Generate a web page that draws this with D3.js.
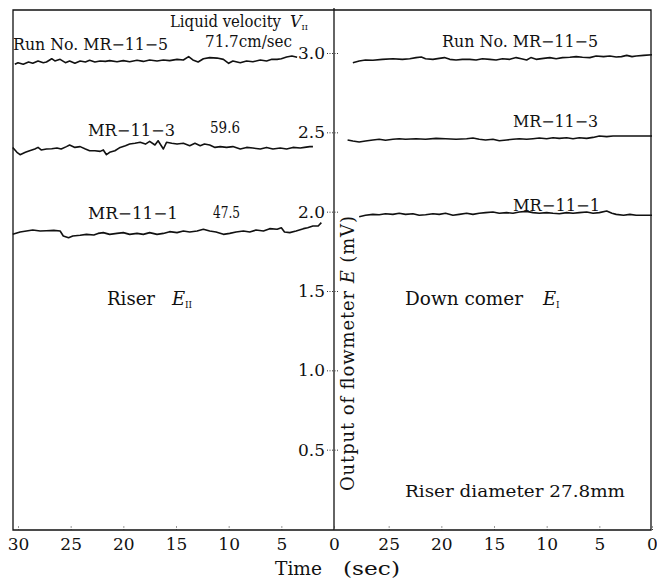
<!DOCTYPE html>
<html lang="en">
<head>
<meta charset="utf-8">
<title>Flowmeter output: riser and down comer</title>
<script src="https://cdn.jsdelivr.net/npm/d3@7"></script>
<style>
  body { margin: 0; background: #fff; }
  svg text { font-family: "DejaVu Serif", "Liberation Serif", serif; fill: #111; }
</style>
</head>
<body>
<script>

// Traces: [time (sec), output E (mV)]
// Riser E_II (left panel)
var riser5 = [[30.3,2.929],[30.0,2.939],[29.5,2.929],[29.0,2.943],[28.6,2.935],[28.1,2.950],[27.6,2.939],[27.3,2.943],[26.8,2.964],[26.5,2.950],[26.0,2.960],[25.5,2.939],[25.1,2.950],[24.6,2.935],[24.1,2.950],[23.6,2.943],[23.2,2.954],[22.7,2.943],[22.2,2.950],[21.7,2.947],[21.3,2.952],[20.6,2.945],[20.0,2.952],[19.4,2.945],[18.7,2.954],[18.1,2.947],[17.5,2.956],[16.8,2.950],[16.2,2.956],[15.6,2.952],[14.9,2.960],[14.3,2.956],[13.8,2.977],[13.4,2.956],[12.9,2.943],[12.4,2.964],[11.8,2.971],[11.1,2.968],[10.5,2.960],[10.0,2.935],[9.6,2.950],[8.9,2.939],[8.3,2.950],[7.7,2.945],[7.0,2.956],[6.4,2.950],[5.9,2.960],[5.4,2.960],[5.0,2.964],[4.5,2.975],[4.0,2.981],[3.5,2.973]];
var riser3 = [[30.5,2.405],[30.1,2.374],[29.8,2.359],[29.3,2.374],[28.9,2.384],[28.4,2.395],[28.1,2.405],[27.8,2.389],[27.3,2.395],[26.8,2.397],[26.3,2.401],[25.9,2.395],[25.4,2.410],[25.1,2.420],[24.6,2.405],[24.1,2.410],[23.6,2.395],[23.2,2.384],[22.7,2.384],[22.2,2.380],[21.9,2.389],[21.6,2.359],[21.3,2.374],[20.8,2.384],[20.3,2.405],[19.8,2.416],[19.4,2.426],[18.9,2.431],[18.4,2.437],[17.9,2.426],[17.5,2.443],[17.0,2.420],[16.7,2.447],[16.2,2.395],[15.9,2.437],[15.4,2.431],[14.9,2.426],[14.3,2.431],[13.7,2.416],[13.2,2.431],[12.7,2.416],[12.3,2.426],[11.8,2.420],[11.3,2.405],[10.8,2.410],[10.2,2.405],[9.6,2.410],[8.9,2.395],[8.3,2.405],[7.7,2.401],[7.0,2.395],[6.4,2.405],[5.8,2.395],[5.1,2.401],[4.5,2.395],[3.9,2.405],[3.2,2.401],[2.8,2.405],[2.3,2.410],[2.0,2.410]];
var riser1 = [[30.5,1.857],[29.8,1.872],[29.2,1.878],[28.6,1.884],[27.9,1.878],[27.3,1.880],[26.6,1.882],[26.0,1.878],[25.7,1.847],[25.2,1.836],[24.8,1.847],[24.1,1.851],[23.5,1.857],[22.8,1.853],[22.4,1.863],[21.9,1.868],[21.3,1.857],[20.6,1.863],[20.0,1.868],[19.4,1.857],[18.7,1.863],[18.1,1.857],[17.5,1.868],[16.8,1.857],[16.2,1.863],[15.6,1.874],[14.9,1.868],[14.3,1.878],[13.7,1.872],[13.0,1.878],[12.4,1.889],[11.8,1.878],[11.2,1.872],[10.5,1.857],[9.9,1.863],[9.3,1.872],[8.6,1.878],[8.0,1.872],[7.4,1.884],[6.7,1.878],[6.1,1.893],[5.4,1.889],[5.0,1.899],[4.7,1.872],[4.2,1.868],[3.6,1.878],[2.9,1.893],[2.5,1.899],[2.0,1.910],[1.5,1.910],[1.2,1.931]];

// Down comer E_I (right panel)
var down5 = [[28.4,2.939],[27.8,2.950],[27.2,2.956],[26.5,2.954],[25.6,2.960],[24.6,2.964],[23.7,2.960],[23.0,2.964],[22.4,2.971],[21.9,2.975],[21.5,2.964],[20.8,2.960],[20.2,2.966],[19.7,2.971],[19.2,2.960],[18.6,2.956],[18.0,2.960],[17.3,2.960],[16.7,2.956],[16.1,2.964],[15.4,2.960],[14.8,2.956],[14.2,2.964],[13.5,2.960],[12.9,2.971],[12.4,2.964],[11.9,2.956],[11.5,2.971],[11.0,2.960],[10.3,2.966],[9.7,2.971],[9.1,2.964],[8.5,2.971],[7.8,2.973],[7.2,2.977],[6.6,2.973],[5.9,2.971],[5.3,2.981],[4.6,2.977],[4.0,2.981],[3.4,2.975],[2.9,2.977],[2.4,2.985],[1.9,2.977],[1.5,2.981],[0.8,2.985],[0.0,2.989]];
var down3 = [[28.9,2.452],[28.4,2.445],[27.8,2.439],[27.2,2.445],[26.5,2.452],[25.9,2.456],[25.3,2.450],[24.6,2.456],[24.0,2.460],[23.4,2.456],[22.4,2.460],[21.5,2.456],[20.5,2.462],[19.6,2.460],[18.6,2.456],[17.6,2.460],[17.0,2.464],[16.4,2.456],[15.8,2.452],[15.1,2.456],[14.5,2.447],[13.8,2.452],[13.2,2.456],[12.6,2.460],[11.9,2.456],[11.3,2.460],[10.7,2.464],[10.0,2.460],[9.4,2.466],[8.8,2.462],[8.1,2.466],[7.5,2.460],[6.9,2.466],[6.2,2.462],[5.6,2.468],[5.0,2.477],[4.3,2.473],[3.7,2.477],[2.8,2.477],[1.8,2.477],[0.7,2.477],[0.0,2.477]];
var down1 = [[27.8,1.968],[27.2,1.977],[26.5,1.983],[25.9,1.981],[25.3,1.987],[24.6,1.983],[24.0,1.990],[23.4,1.983],[22.7,1.987],[22.1,1.977],[21.5,1.981],[20.8,1.987],[20.2,1.983],[19.6,1.990],[18.9,1.977],[18.3,1.983],[17.6,1.990],[17.0,1.983],[16.4,1.990],[15.8,1.994],[15.1,1.998],[14.5,1.990],[13.8,1.994],[13.2,1.990],[12.6,1.998],[11.9,2.002],[11.3,1.994],[10.7,1.990],[10.0,1.994],[9.4,1.990],[8.8,1.987],[8.1,1.994],[7.5,1.990],[6.9,1.994],[6.2,1.998],[5.6,1.990],[5.0,1.994],[4.3,2.004],[3.8,1.990],[3.4,1.983],[2.7,1.977],[2.1,1.983],[1.5,1.977],[0.8,1.977],[0.0,1.977]];

var xTicksLeft = [30, 25, 20, 15, 10, 5, 0];
var xTicksRight = [25, 20, 15, 10, 5, 0];   // 30 of the right panel sits on the shared 0
var yTicks = [0.5, 1.0, 1.5, 2.0, 2.5, 3.0];
var runNames = ["MR\u221211\u22125", "MR\u221211\u22123", "MR\u221211\u22121"];
var velocities = ["71.7cm/sec", "59.6", "47.5"];

//Width and height
var w = 657;
var h = 582;

var svg = d3.select("body")
			.append("svg")
			.attr("width", w)
			.attr("height", h);

var xLeft = d3.scaleLinear().domain([30, 0]).range([18, 334]);
var xRight = d3.scaleLinear().domain([30, 0]).range([336, 652]);
var yScale = d3.scaleLinear().domain([0, 3]).range([529, 53]);

var frameTop = 10, frameBottom = 530, frameLeft = 13, frameRight = 651, mid = 334;

//Frame
var frame = svg.append("g").attr("stroke", "#111").attr("stroke-width", 1.3).attr("fill", "none");
frame.append("path").attr("d", "M" + mid + "," + frameTop + "H" + frameLeft + "V" + frameBottom + "H" + frameRight + "V" + frameTop + "H" + mid);
frame.append("line").attr("x1", mid).attr("x2", mid).attr("y1", frameTop - 2).attr("y2", frameBottom);

//Traces
function trace(data, xs) {
	var line = d3.line()
				.x(function(d) { return xs(d[0]); })
				.y(function(d) { return yScale(d[1]); });
	svg.append("path")
		.datum(data)
		.attr("d", line)
		.attr("fill", "none")
		.attr("stroke", "#111")
		.attr("stroke-width", 1.6)
		.attr("stroke-linejoin", "round");
}
[riser5, riser3, riser1].forEach(function(d) { trace(d, xLeft); });
[down5, down3, down1].forEach(function(d) { trace(d, xRight); });

//X axes
function xAxis(xs, ticks) {
	var g = svg.append("g")
		.attr("transform", "translate(0," + frameBottom + ")")
		.call(d3.axisBottom(xs).tickValues(ticks).tickSize(-4).tickPadding(8).tickFormat(d3.format("d")));
	g.select(".domain").remove();
	g.selectAll(".tick line").attr("stroke", "#333").attr("stroke-dasharray", "1,1.5");
	g.selectAll(".tick text").attr("font-size", 17).attr("font-family", "DejaVu Serif").attr("fill", "#111");
}
xAxis(xLeft, xTicksLeft);
xAxis(xRight, xTicksRight);

//Y axis on the shared middle line
var yg = svg.append("g")
	.attr("transform", "translate(" + mid + ",0)")
	.call(d3.axisLeft(yScale).tickValues(yTicks).tickSize(7).tickPadding(2).tickFormat(d3.format(".1f")));
yg.select(".domain").remove();
yg.selectAll(".tick line").attr("x2", -7).attr("x1", 4).attr("stroke", "#333").attr("stroke-dasharray", "1,1.5");
yg.selectAll(".tick text").attr("font-size", 17).attr("font-family", "DejaVu Serif").attr("fill", "#111");

//Labels
function label(str, x, yy, len, size) {
	var t = svg.append("text").attr("x", x).attr("y", yy).attr("font-size", size || 16).text(str);
	if (len) t.attr("textLength", len).attr("lengthAdjust", "spacingAndGlyphs");
	return t;
}
function variable(sym, sub, x, yy, size) {
	svg.append("text").attr("x", x).attr("y", yy).attr("font-size", size).attr("font-style", "italic").text(sym);
	svg.append("text").attr("x", x + size * 0.72).attr("y", yy + 3).attr("font-size", size * 0.5).text(sub);
}

label("Liquid velocity", 170, 27, 111);
variable("V", "II", 290, 27, 16);

label("Run No. " + runNames[0], 13, 50, 155);
label(velocities[0], 205, 47, 87);
label(runNames[1], 88, 136, 87);
label(velocities[1], 210, 133, 30);
label(runNames[2], 88, 219, 90);
label(velocities[2], 213, 218, 27);

label("Run No. " + runNames[0], 442, 47, 156);
label(runNames[1], 513, 127, 85);
label(runNames[2], 513, 211, 87);

label("Riser", 107, 305, 48, 18);
variable("E", "II", 172, 305, 18);
label("Down comer", 405, 305, 118, 18);
variable("E", "I", 543, 305, 18);
label("Riser diameter 27.8mm", 405, 497, 220, 17);

//Axis titles
label("Time", 275, 575, 47, 18);
label("(sec)", 343, 575, 57, 18);

var yt = svg.append("text")
	.attr("transform", "translate(354,491) rotate(-90)")
	.attr("font-size", 18);
yt.append("tspan").text("Output of flowmeter ");
yt.append("tspan").attr("font-style", "italic").text("E");
yt.append("tspan").text(" (mV)");
yt.attr("textLength", 275).attr("lengthAdjust", "spacing");

</script>
</body>
</html>
